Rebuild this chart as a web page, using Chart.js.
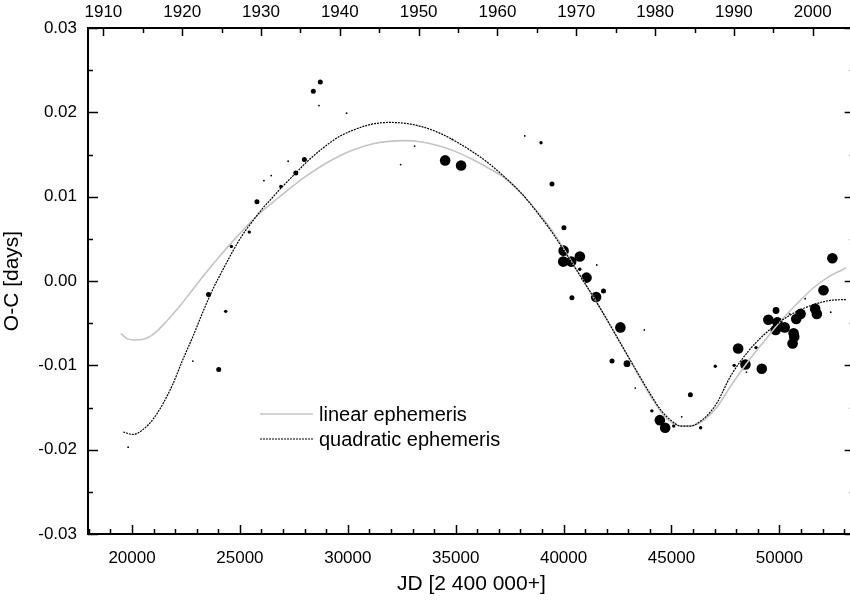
<!DOCTYPE html>
<html lang="en">

<head>
    <meta charset="UTF-8">
    <script src="https://cdn.jsdelivr.net/npm/chart.js"></script>
    <title>O-C diagram</title>
    <style>
        body { margin: 0; background: #fff; }
        .wrap { width: 850px; height: 602px; overflow: hidden; }
    </style>
</head>

<body>
    <div class="wrap">
        <canvas id="ocChart" width="860" height="602"></canvas>
    </div>
</body>
<script>

    // observed minima: JD - 2400000, O-C in days, weight class of the timing
    const minJd = [19820, 22820, 23543, 24018, 24341, 24604, 25435, 25790, 26113, 26450,
        26897, 27234, 27590, 27987, 28401, 28665, 28725, 29943, 32448, 33094,
        34511, 34834, 35249, 38202, 38954, 39462, 40015, 40001, 39982, 40351,
        40753, 40750, 41062, 41538, 40384, 41506, 41847, 42245, 42632, 42937,
        43324, 43740, 44090, 44459, 44706, 45104, 45473, 45875, 46351, 47028,
        47905, 48089, 48427, 48473, 48920, 49183, 49487, 49844, 49904, 49830,
        50246, 50474, 50612, 50658, 50689, 50780, 50982, 51196, 51657, 51735,
        52044, 52380, 52455];
    const minOc = [-0.0197, -0.0095, -0.0016, -0.0105, -0.0036, 0.0041, 0.0058, 0.0094, 0.0119, 0.0125,
        0.0112, 0.0142, 0.0128, 0.0144, 0.0225, 0.0208, 0.0236, 0.0199, 0.0138, 0.0160,
        0.0143, 0.0168, 0.0137, 0.0172, 0.0164, 0.0115, 0.0063, 0.0036, 0.0023, 0.0023,
        0.0029, 0.0014, 0.0004, 0.0019, -0.0020, -0.0019, -0.0012, -0.0095, -0.0055, -0.0098,
        -0.0127, -0.0058, -0.0154, -0.0165, -0.0174, -0.0172, -0.0161, -0.0135, -0.0174, -0.0101,
        -0.0100, -0.0080, -0.0099, -0.0108, -0.0079, -0.0104, -0.0046, -0.0035, -0.0049, -0.0058,
        -0.0055, -0.0039, -0.0074, -0.0062, -0.0066, -0.0045, -0.0039, -0.0021, -0.0033, -0.0039,
        -0.0011, -0.0037, 0.0027];
    const minWeight = [1, 1, 3, 3, 2, 2, 2, 3, 1, 1,
        2, 1, 3, 3, 3, 1, 3, 1, 1, 1,
        5, 1, 5, 1, 2, 3, 3, 5, 5, 5,
        5, 2, 5, 1, 3, 5, 3, 3, 5, 4,
        1, 1, 2, 5, 5, 2, 1, 3, 2, 2,
        2, 5, 5, 1, 2, 5, 5, 4, 5, 5,
        5, 1, 5, 5, 5, 5, 5, 1, 5, 5,
        5, 1, 5];

    // linear ephemeris fit
    const linJd = [19483, 19746, 20207, 20668, 21130, 21591, 22205, 22819, 23436, 24050,
        24664, 25283, 25896, 26510, 27128, 28051, 28817, 29588, 30358, 31124,
        31894, 32665, 33431, 34201, 34972, 35738, 36508, 37278, 38044, 38663,
        39429, 40200, 40970, 41737, 42507, 43277, 44043, 44813, 45583, 46044,
        46505, 47120, 47735, 48505, 49274, 50043, 50813, 51582, 52350,
        52966, 53100];
    const linOc = [-0.0062, -0.0068, -0.0070, -0.0068, -0.0060, -0.0048, -0.0030, -0.0010, 0.0010, 0.0029,
        0.0047, 0.0064, 0.0080, 0.0093, 0.0106, 0.0124, 0.0137, 0.0148, 0.01565, 0.01625,
        0.01656, 0.01664, 0.01648, 0.01604, 0.01537, 0.01447, 0.0134, 0.0122, 0.0104, 0.0086,
        0.0061, 0.0030, -0.0002, -0.0034, -0.0068, -0.0103, -0.0137, -0.0164, -0.0172, -0.0171,
        -0.0165, -0.0149, -0.0125, -0.0097, -0.0072, -0.0048, -0.0027, -0.0008, 0.0006,
        0.0014, 0.0016];

    // quadratic ephemeris fit
    const quadJd = [19589, 20050, 20512, 20973, 21434, 21896, 22357, 22819, 23280, 23741,
        24203, 24664, 25130, 25590, 26050, 26510, 26897, 27590, 28051, 28817,
        29588, 30358, 31124, 31894, 32665, 33431, 34201, 34972, 35738, 36508,
        37278, 38044, 38663, 39429, 40200, 40970, 41737, 42507, 43277, 44043,
        44505, 44966, 45428, 45889, 46351, 46812, 47120, 47735, 48505, 49274,
        50043, 50813, 51582, 52350, 53100];
    const quadOc = [-0.0179, -0.0182, -0.0176, -0.0164, -0.01455, -0.0122, -0.0093, -0.0066, -0.0037, -0.0010,
        0.0013, 0.0035, 0.0055, 0.0071, 0.0086, 0.0099, 0.0110, 0.0128, 0.0140, 0.0157,
        0.0171, 0.0180, 0.0186, 0.0188, 0.0187, 0.0183, 0.0176, 0.0166, 0.0154, 0.0140,
        0.0123, 0.0104, 0.0085, 0.0059, 0.0029, -0.0002, -0.0034, -0.0068, -0.0102, -0.0135,
        -0.0153, -0.0165, -0.0172, -0.0172, -0.0166, -0.0155, -0.0144, -0.0113, -0.0085, -0.0064,
        -0.0048, -0.0036, -0.0028, -0.0023, -0.0022];

    // axis tick labels
    const jdTicks = [20000, 25000, 30000, 35000, 40000, 45000, 50000];
    const yearTicks = [1910, 1920, 1930, 1940, 1950, 1960, 1970, 1980, 1990, 2000];
    const ocTicks = [-0.03, -0.02, -0.01, 0, 0.01, 0.02, 0.03];

    const legendLabels = ['linear ephemeris', 'quadratic ephemeris'];

    const JD_MIN = 17960, JD_MAX = 53490;
    // JD of 1910.0 minus 2400000
    const JD_1910 = 18672.5;
    const toYear = jd => 1910 + (jd - JD_1910) / 365.25;

    const fontFamily = '"Liberation Sans", Arial, Helvetica, sans-serif';
    const radiusOf = { 1: 0.9, 2: 1.7, 3: 2.5, 4: 3.4, 5: 5.3 };
    const quadDash = [2, 1];

    // frame, inward tick marks and the little legend
    const frame = {
        id: 'frame',
        afterDraw(chart) {
            const { ctx, chartArea: a, scales } = chart;
            ctx.save();
            ctx.strokeStyle = '#000';
            ctx.lineWidth = 2;
            ctx.strokeRect(a.left, a.top, a.right - a.left, a.bottom - a.top);

            ctx.beginPath();
            for (let v = 18000; v <= 53000; v += 1000) {
                const px = Math.round(scales.x.getPixelForValue(v)) + 0.5;
                const len = v % 5000 === 0 ? 9 : 5;
                ctx.moveTo(px, a.bottom); ctx.lineTo(px, a.bottom - len);
            }
            for (let yr = 1910; yr <= 2005; yr += 5) {
                const px = Math.round(scales.x2.getPixelForValue(yr)) + 0.5;
                const len = yr % 10 === 0 ? 8 : 5;
                ctx.moveTo(px, a.top); ctx.lineTo(px, a.top + len);
            }
            for (let i = -6; i <= 6; i++) {
                const py = Math.round(scales.y.getPixelForValue(i * 0.005)) + 0.5;
                const len = i % 2 === 0 ? 10 : 5;
                ctx.moveTo(a.left, py); ctx.lineTo(a.left + len, py);
                ctx.moveTo(a.right, py); ctx.lineTo(a.right - len, py);
            }
            ctx.lineWidth = 1.5;
            ctx.stroke();

            // legend
            ctx.lineWidth = 1.6;
            ctx.strokeStyle = '#c4c4c4';
            ctx.beginPath(); ctx.moveTo(260, 414); ctx.lineTo(313, 414); ctx.stroke();
            ctx.lineWidth = 1.2;
            ctx.strokeStyle = '#000';
            ctx.setLineDash(quadDash);
            ctx.beginPath(); ctx.moveTo(260, 439); ctx.lineTo(313, 439); ctx.stroke();
            ctx.setLineDash([]);
            ctx.fillStyle = '#000';
            ctx.font = '20px ' + fontFamily;
            ctx.textBaseline = 'middle';
            ctx.fillText(legendLabels[0], 319, 415);
            ctx.fillText(legendLabels[1], 319, 440);
            ctx.restore();
        }
    };

    const tickFont = { family: fontFamily, size: 17 };
    const titleFont = { family: fontFamily, size: 21 };

    const config = {
        data: {
            datasets: [{
                type: 'scatter',
                label: 'minima',
                data: minJd.map((x, i) => ({ x: x, y: minOc[i] })),
                pointRadius: minWeight.map(w => radiusOf[w]),
                pointBackgroundColor: '#000',
                pointBorderWidth: 0,
                order: 3
            }, {
                type: 'line',
                label: legendLabels[0],
                data: linJd.map((x, i) => ({ x: x, y: linOc[i] })),
                borderColor: '#c4c4c4',
                borderWidth: 1.6,
                pointRadius: 0,
                cubicInterpolationMode: 'monotone',
                order: 2
            }, {
                type: 'line',
                label: legendLabels[1],
                data: quadJd.map((x, i) => ({ x: x, y: quadOc[i] })),
                borderColor: '#000',
                borderWidth: 1.2,
                borderDash: quadDash,
                pointRadius: 0,
                cubicInterpolationMode: 'monotone',
                order: 1
            }]
        },
        options: {
            responsive: false,
            animation: false,
            layout: { padding: { left: 0, top: 0, right: 2, bottom: 0 } },
            plugins: { legend: { display: false }, tooltip: { enabled: false } },
            scales: {
                x: {
                    type: 'linear', position: 'bottom', min: JD_MIN, max: JD_MAX,
                    afterBuildTicks: s => { s.ticks = jdTicks.map(v => ({ value: v })); },
                    afterFit: s => { s.height = 68; },
                    grid: { display: false, drawTicks: false },
                    border: { display: false },
                    ticks: { font: tickFont, color: '#000', padding: 14, maxRotation: 0, callback: v => String(v) },
                    title: { display: true, text: 'JD [2 400 000+]', font: titleFont, color: '#000', padding: { top: 0, bottom: 5 } }
                },
                x2: {
                    type: 'linear', position: 'top', min: toYear(JD_MIN), max: toYear(JD_MAX),
                    afterBuildTicks: s => { s.ticks = yearTicks.map(v => ({ value: v })); },
                    afterFit: s => { s.height = 28; },
                    grid: { display: false, drawTicks: false },
                    border: { display: false },
                    ticks: { font: tickFont, color: '#000', padding: 5, maxRotation: 0, callback: v => String(v) }
                },
                y: {
                    type: 'linear', position: 'left', min: -0.03, max: 0.03,
                    afterBuildTicks: s => { s.ticks = ocTicks.map(v => ({ value: v })); },
                    afterFit: s => { s.width = 88; },
                    grid: { display: false, drawTicks: false },
                    border: { display: false },
                    ticks: { font: tickFont, color: '#000', padding: 11, callback: v => v.toFixed(2) },
                    title: { display: true, text: 'O-C [days]', font: titleFont, color: '#000', padding: 0 }
                }
            }
        },
        plugins: [frame]
    };

    const ocChart = new Chart(document.getElementById('ocChart'), config);

</script>

</html>
